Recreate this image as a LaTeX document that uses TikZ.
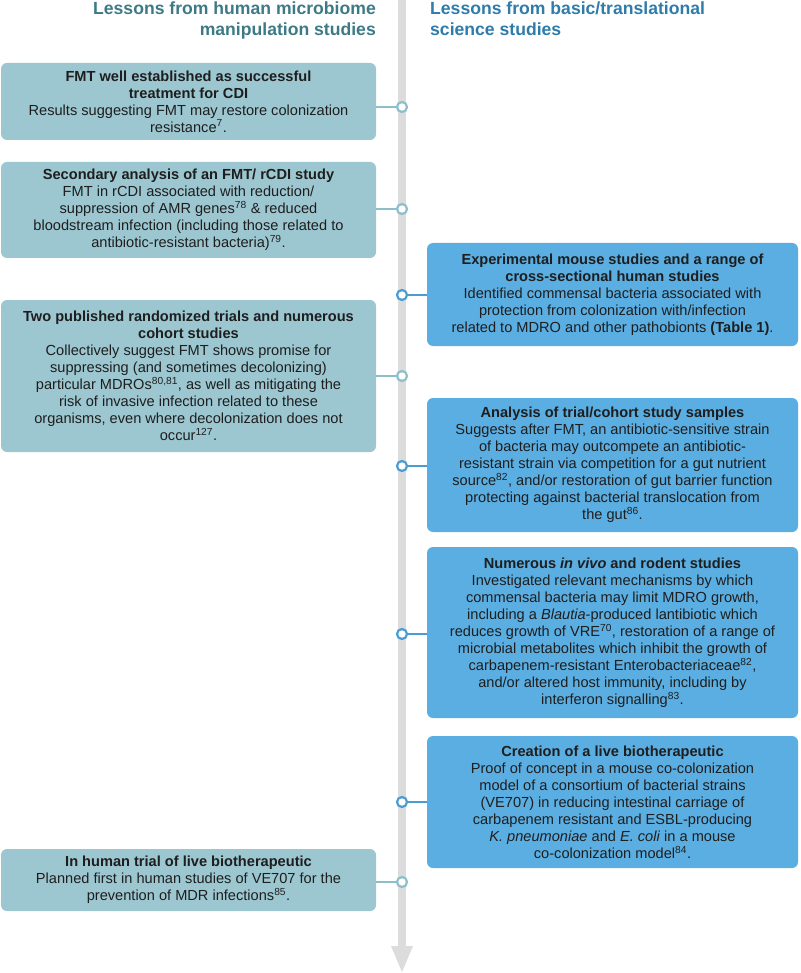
\documentclass[tikz,border=0pt]{standalone}
\usepackage{fontspec}
\setmainfont{Liberation Sans}
\definecolor{lboxc}{HTML}{9CC7D1}
\definecolor{rboxc}{HTML}{5BAEE2}
\definecolor{ldotc}{HTML}{8DBFCB}
\definecolor{rdotc}{HTML}{4A9CD4}
\definecolor{barc}{HTML}{DCDCDC}
\definecolor{lhead}{HTML}{3D7A86}
\definecolor{rhead}{HTML}{2F7BAA}
\definecolor{textc}{HTML}{1E1E1E}
\newcommand\mybody{\fontsize{14.6}{17}\selectfont}
\newcommand\myhead{\fontsize{17.6}{20.5}\selectfont\bfseries}
\tikzset{
  boxbase/.style={rounded corners=6pt, align=center, inner sep=0pt, font=\mybody, text=textc},
  lbox/.style={boxbase, fill=lboxc, minimum width=375pt},
  rbox/.style={boxbase, fill=rboxc, minimum width=371pt},
  ldot/.style={circle, draw=ldotc, line width=2.2pt, fill=white, minimum size=10pt, inner sep=0pt},
  rdot/.style={circle, draw=rdotc, line width=2.2pt, fill=white, minimum size=10pt, inner sep=0pt},
  lcon/.style={draw=ldotc, line width=2.2pt},
  rcon/.style={draw=rdotc, line width=2.2pt},
  headtxt/.style={inner sep=0pt, font=\myhead}
}
\begin{document}
\begin{tikzpicture}[x=1pt,y=-1pt]
\useasboundingbox (0,0) rectangle (800,973);
% timeline bar
\fill[barc] (398,0) rectangle (406,948);
\fill[barc] (391,946) -- (413,946) -- (402,972) -- cycle;
% headers
\node[headtxt, text=lhead, align=right, anchor=north east] (hl) at (376,2)
  {Lessons from human microbiome\\manipulation studies};
\node[headtxt, text=rhead, align=left, anchor=north west] (hr) at (430,2)
  {Lessons from basic/translational\\science studies};
% left boxes
\node[lbox, minimum height=77pt] (l1) at (188.5,101.5)
  {\textbf{FMT well established as successful}\\
   \textbf{treatment for CDI}\\
   Results suggesting FMT may restore colonization\\
   resistance\textsuperscript{7}.};
\node[lbox, minimum height=96pt] (l2) at (188.5,210)
  {\textbf{Secondary analysis of an FMT/ rCDI study}\\
   FMT in rCDI associated with reduction/\\
   suppression of AMR genes\textsuperscript{78} \& reduced\\
   bloodstream infection (including those related to\\
   antibiotic-resistant bacteria)\textsuperscript{79}.};
\node[lbox, minimum height=152pt] (l3) at (188.5,376)
  {\textbf{Two published randomized trials and numerous}\\
   \textbf{cohort studies}\\
   Collectively suggest FMT shows promise for\\
   suppressing (and sometimes decolonizing)\\
   particular MDROs\textsuperscript{80,81}, as well as mitigating the\\
   risk of invasive infection related to these\\
   organisms, even where decolonization does not\\
   occur\textsuperscript{127}.};
\node[lbox, minimum height=62pt] (l4) at (188.5,880)
  {\textbf{In human trial of live biotherapeutic}\\
   Planned first in human studies of VE707 for the\\
   prevention of MDR infections\textsuperscript{85}.};
% right boxes
\node[rbox, minimum height=103pt] (r1) at (612.5,294.5)
  {\textbf{Experimental mouse studies and a range of}\\
   \textbf{cross-sectional human studies}\\
   Identified commensal bacteria associated with\\
   protection from colonization with/infection\\
   related to MDRO and other pathobionts \textbf{(Table 1)}.};
\node[rbox, minimum height=134pt] (r2) at (612.5,465)
  {\textbf{Analysis of trial/cohort study samples}\\
   Suggests after FMT, an antibiotic-sensitive strain\\
   of bacteria may outcompete an antibiotic-\\
   resistant strain via competition for a gut nutrient\\
   source\textsuperscript{82}, and/or restoration of gut barrier function\\
   protecting against bacterial translocation from\\
   the gut\textsuperscript{86}.};
\node[rbox, minimum height=171pt] (r3) at (612.5,632.5)
  {\textbf{Numerous \textit{in vivo} and rodent studies}\\
   Investigated relevant mechanisms by which\\
   commensal bacteria may limit MDRO growth,\\
   including a \textit{Blautia}-produced lantibiotic which\\
   reduces growth of VRE\textsuperscript{70}, restoration of a range of\\
   microbial metabolites which inhibit the growth of\\
   carbapenem-resistant Enterobacteriaceae\textsuperscript{82},\\
   and/or altered host immunity, including by\\
   interferon signalling\textsuperscript{83}.};
\node[rbox, minimum height=132pt] (r4) at (612.5,802)
  {\textbf{Creation of a live biotherapeutic}\\
   Proof of concept in a mouse co-colonization\\
   model of a consortium of bacterial strains\\
   (VE707) in reducing intestinal carriage of\\
   carbapenem resistant and ESBL-producing\\
   \textit{K. pneumoniae} and \textit{E. coli} in a mouse\\
   co-colonization model\textsuperscript{84}.};
% timeline dots
\node[ldot] (c1) at (402,107) {};
\node[ldot] (c2) at (402,209) {};
\node[ldot] (c3) at (402,376) {};
\node[ldot] (c4) at (402,882) {};
\node[rdot] (d1) at (402,295) {};
\node[rdot] (d2) at (402,466) {};
\node[rdot] (d3) at (402,634) {};
\node[rdot] (d4) at (402,802) {};
% connectors
\draw[lcon] (c1) -- (c1 -| l1.east);
\draw[lcon] (c2) -- (c2 -| l2.east);
\draw[lcon] (c3) -- (c3 -| l3.east);
\draw[lcon] (c4) -- (c4 -| l4.east);
\draw[rcon] (d1) -- (d1 -| r1.west);
\draw[rcon] (d2) -- (d2 -| r2.west);
\draw[rcon] (d3) -- (d3 -| r3.west);
\draw[rcon] (d4) -- (d4 -| r4.west);
\end{tikzpicture}
\end{document}
